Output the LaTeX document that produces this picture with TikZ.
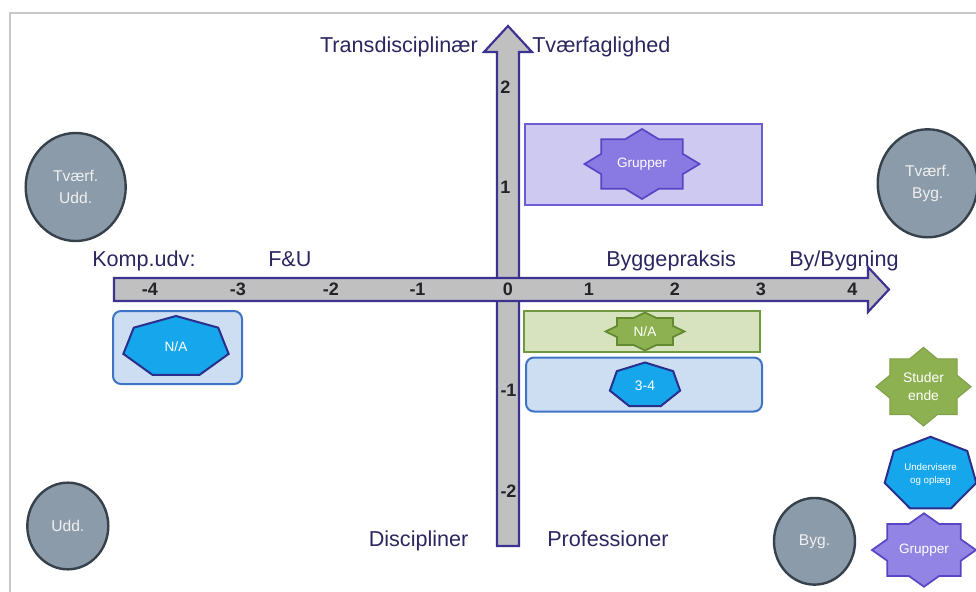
\documentclass[tikz,border=0pt]{standalone}
\usepackage{fontspec}
\setmainfont{Liberation Sans}
\usetikzlibrary{shapes.geometric,fit}

\definecolor{ink}{RGB}{43,38,95}
\definecolor{tickink}{RGB}{35,35,40}
\definecolor{framegray}{RGB}{200,200,200}
\definecolor{axisfill}{RGB}{192,192,192}
\definecolor{axisline}{RGB}{60,50,145}
\definecolor{lavfill}{RGB}{206,201,241}
\definecolor{lavline}{RGB}{108,92,212}
\definecolor{purpfill}{RGB}{137,121,226}
\definecolor{purpline}{RGB}{88,70,196}
\definecolor{leaffill}{RGB}{214,227,190}
\definecolor{leafline}{RGB}{112,152,62}
\definecolor{greenfill}{RGB}{141,177,80}
\definecolor{greenline}{RGB}{98,138,48}
\definecolor{skyfill}{RGB}{205,222,242}
\definecolor{skyline}{RGB}{62,116,196}
\definecolor{heptfill}{RGB}{22,166,235}
\definecolor{heptline}{RGB}{42,46,140}
\definecolor{discfill}{RGB}{140,155,170}
\definecolor{discline}{RGB}{55,65,75}

% eight-point star on an ellipse: x radius, y radius, inner ratio
\newcommand\starpath[3]{(0,{-#2})
  \foreach \k [evaluate=\k as \ang using {270+\k*22.5},
               evaluate=\k as \fr using {1-(1-#3)*mod(\k,2)}] in {1,...,15}
  { -- ({\fr*#1*cos(\ang)},{\fr*#2*sin(\ang)}) } -- cycle}
% heptagon on an ellipse, one corner at the top: x radius, y radius
\newcommand\heptapath[2]{(0,{-#2})
  \foreach \k [evaluate=\k as \ang using {270+\k*360/7}] in {1,...,6}
  { -- ({#1*cos(\ang)},{#2*sin(\ang)}) } -- cycle}

\tikzset{
  axisbar/.style={fill=axisfill, draw=axisline, line width=1.6pt, line join=miter},
  lab/.style={inner sep=0pt, text=ink, font=\fontsize{16.2}{19}\selectfont},
  ticklab/.style={inner sep=0pt, anchor=base, text=tickink, font=\bfseries\fontsize{13.5}{16}\selectfont},
  band/.style={inner sep=0pt, line width=1.5pt},
  lavband/.style={band, fill=lavfill, draw=lavline},
  leafband/.style={band, fill=leaffill, draw=leafline},
  skyband/.style={band, fill=skyfill, draw=skyline, rounded corners=6pt},
  purpstar/.style={fill=purpfill, draw=purpline, line width=1.3pt, line join=miter},
  greenstar/.style={fill=greenfill, draw=greenline, line width=1.3pt, line join=miter},
  legstar/.style={fill=greenfill, draw=greenfill!90!black, line width=0.8pt, line join=miter},
  hept/.style={fill=heptfill, draw=heptline, line width=1.5pt, line join=miter},
  shapetxt/.style={inner sep=0pt, text=white, align=center, font=\fontsize{10.2}{13}\selectfont},
  disc/.style={ellipse, fill=discfill, draw=discline, line width=1.8pt, inner sep=0pt,
    text=white!94!black, align=center, font=\fontsize{11.7}{16.8}\selectfont},
}

\begin{document}
\begin{tikzpicture}[x=0.75pt, y=-0.75pt]
\useasboundingbox (0,0) rectangle (976,592);
\clip (0,0) rectangle (976,592);

% outer frame
\draw[framegray, line width=2.2pt] (980,13) -- (10,13) -- (10,600);

% vertical axis (drawn first, the horizontal bar crosses over it)
\draw[axisbar] (497,546) -- (497,52) -- (484,52) -- (508,26) -- (532,52) -- (519,52) -- (519,546) -- cycle;
% horizontal axis
\draw[axisbar] (114,278) -- (868,278) -- (868,267) -- (889,289.5) -- (868,312) -- (868,301) -- (114,301) -- cycle;

% tick numbers, horizontal
\node[ticklab] (hm4) at (150,296) {-4};
\node[ticklab] (hm3) at (238,296) {-3};
\node[ticklab] (hm2) at (331,296) {-2};
\node[ticklab] (hm1) at (417.5,296) {-1};
\node[ticklab] (h0)  at (508,296) {0};
\node[ticklab] (h1)  at (589,296) {1};
\node[ticklab] (h2)  at (675,296) {2};
\node[ticklab] (h3)  at (761,296) {3};
\node[ticklab] (h4)  at (852.5,296) {4};
% tick numbers, vertical
\node[ticklab] (v2)  at (505.5,94) {2};
\node[ticklab] (v1)  at (505.5,194) {1};
\node[ticklab] (vm1) at (508.5,396) {-1};
\node[ticklab] (vm2) at (508.5,497) {-2};

% axis captions
\node[lab, anchor=base east] (trans) at (478,53) {Transdisciplinær};
\node[lab, anchor=base west] (tvaer) at (532,53) {Tværfaglighed};
\node[lab, anchor=base west] (komp) at (92,266.5) {Komp.udv:};
\node[lab, anchor=base west] (fu) at (268,266.5) {F\&U};
\node[lab, anchor=base west] (bygp) at (606,266.5) {Byggepraksis};
\node[lab, anchor=base west] (bygn) at (789,266.5) {By/Bygning};
\node[lab, anchor=base west] (disc) at (368.5,546) {Discipliner};
\node[lab, anchor=base west] (prof) at (547,546) {Professioner};

% bands in the quadrants
\node[lavband, fit={(525,124) (762,205)}] (grpband) {};
\node[leafband, fit={(524,311) (760,352)}] (studband) {};
\node[skyband, fit={(526,357.5) (762,411.5)}] (undband) {};
\node[skyband, fit={(113,311) (242,384)}] (undleft) {};

% markers inside the bands
\coordinate (grpC) at (642,164);
\draw[purpstar, shift={(grpC)}] \starpath{57.5}{35}{0.765};
\node[shapetxt] (grp) at (grpC) {Grupper};

\coordinate (studC) at (645,331.5);
\draw[greenstar, shift={(studC)}] \starpath{39.5}{19}{0.765};
\node[shapetxt] (stud) at (studC) {N/A};

\coordinate (undC) at (645,385.5);
\draw[hept, shift={(undC)}] \heptapath{36}{23};
\node[shapetxt, font=\fontsize{10.4}{13}\selectfont] (und) at (undC) {3-4};

\coordinate (undlC) at (176,347);
\draw[hept, shift={(undlC)}] \heptapath{54}{31};
\node[shapetxt] (undl) at (undlC) {N/A};

% corner discs
\node[disc, minimum width=75pt, minimum height=81pt] (tvudd) at (75.7,187) {Tværf.\\Udd.};
\node[disc, minimum width=75pt, minimum height=81pt] (tvbyg) at (927.7,183.3) {Tværf.\\Byg.};
\node[disc, minimum width=60.75pt, minimum height=65pt] (udd) at (67.8,526) {Udd.};
\node[disc, minimum width=60.75pt, minimum height=65pt] (byg) at (814.5,541.3) {Byg.};

% key
\coordinate (kStud) at (923.5,386.7);
\draw[legstar, shift={(kStud)}] \starpath{47.5}{39.3}{0.765};
\node[shapetxt, font=\fontsize{10.4}{13.3}\selectfont] (kstud) at (kStud) {Studer\\ende};

\coordinate (kUnd) at (930.5,474.5);
\draw[hept, shift={(kUnd)}] \heptapath{47}{37.7};
\node[shapetxt, font=\fontsize{7.3}{10}\selectfont] (kund) at (kUnd) {Undervisere\\og oplæg};

\coordinate (kGrp) at (924,550);
\draw[purpstar, fill=purpfill!92!white, shift={(kGrp)}] \starpath{52}{36.7}{0.765};
\node[shapetxt, font=\fontsize{10.2}{13}\selectfont] (kgrp) at (kGrp) {Grupper};
\end{tikzpicture}
\end{document}
